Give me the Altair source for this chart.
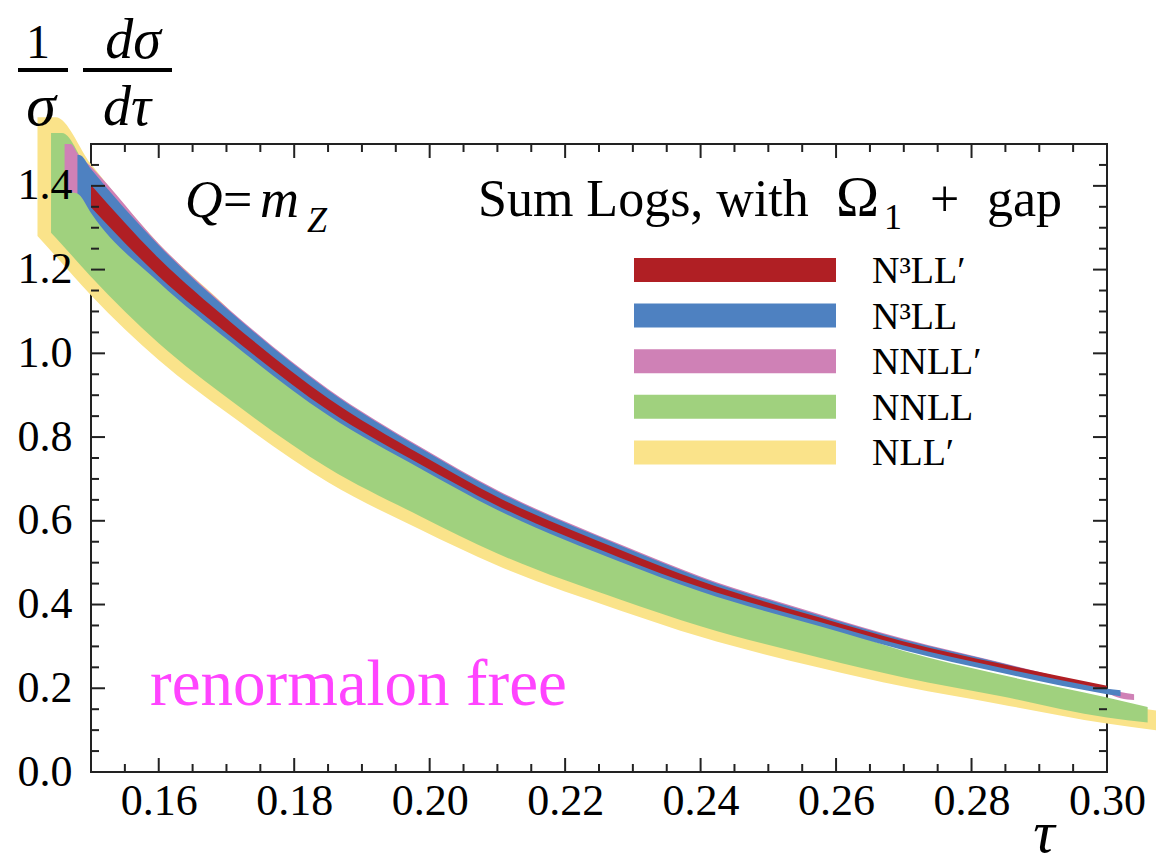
import altair as alt
import pandas as pd

# ---- band data: thrust distribution 1/sigma dsigma/dtau, one band per order ----
orders = ["NLL′", "NNLL", "NNLL′", "N³LL", "N³LL′"]   # drawn bottom to top
colors = ["#FAE38A", "#A0D17E", "#CF81B6", "#4E81C1", "#B01F24"]

tau_nllp = [0.1421, 0.1448, 0.15, 0.16, 0.1706, 0.185, 0.1986, 0.21, 0.2281, 0.24, 0.2576, 0.27, 0.2842, 0.30, 0.308]
hi_nllp = [1.564, 1.564, 1.452, 1.262, 1.101, 0.850, 0.720, 0.620, 0.500, 0.430, 0.345, 0.285, 0.220, 0.165, 0.145]
lo_nllp = [1.280, 1.232, 1.139, 0.984, 0.852, 0.692, 0.579, 0.493, 0.386, 0.323, 0.249, 0.204, 0.1618, 0.1156, 0.098]

tau_nnll = [0.1441, 0.1457, 0.15, 0.16, 0.1706, 0.185, 0.1986, 0.21, 0.2281, 0.24, 0.2576, 0.27, 0.2842, 0.30, 0.306]
hi_nnll = [1.526, 1.526, 1.420, 1.180, 1.037, 0.862, 0.735, 0.636, 0.512, 0.441, 0.355, 0.289, 0.2327, 0.178, 0.155]
lo_nnll = [1.288, 1.260, 1.183, 1.024, 0.888, 0.726, 0.611, 0.522, 0.412, 0.348, 0.273, 0.226, 0.1816, 0.130, 0.118]

tau_nnllp = [0.1461, 0.147, 0.148, 0.15, 0.16, 0.1706, 0.185, 0.1986, 0.21, 0.2281, 0.24, 0.2576, 0.27, 0.2842, 0.30, 0.302, 0.304]
hi_nnllp = [1.500, 1.500, 1.478, 1.446, 1.262, 1.102, 0.915, 0.777, 0.673, 0.544, 0.467, 0.377, 0.318, 0.262, 0.199, 0.191, 0.186]
lo_nnllp = [1.386, 1.385, 1.382, 1.339, 1.174, 1.031, 0.856, 0.729, 0.630, 0.506, 0.435, 0.352, 0.294, 0.240, 0.188, 0.176, 0.172]

tau_n3ll = [0.148, 0.1483, 0.15, 0.16, 0.1706, 0.185, 0.1986, 0.21, 0.2281, 0.24, 0.2576, 0.27, 0.2842, 0.30, 0.302]
hi_n3ll = [1.474, 1.474, 1.440, 1.258, 1.099, 0.912, 0.774, 0.670, 0.541, 0.464, 0.374, 0.316, 0.261, 0.199, 0.195]
lo_n3ll = [1.382, 1.378, 1.335, 1.170, 1.027, 0.852, 0.725, 0.626, 0.502, 0.431, 0.348, 0.291, 0.2375, 0.186, 0.181]

tau_n3llp = [0.15, 0.16, 0.1706, 0.185, 0.1986, 0.21, 0.2281, 0.24, 0.2576, 0.27, 0.2842, 0.30]
hi_n3llp = [1.402, 1.227, 1.075, 0.893, 0.759, 0.657, 0.531, 0.456, 0.369, 0.312, 0.259, 0.206]
lo_n3llp = [1.349, 1.184, 1.041, 0.864, 0.735, 0.636, 0.512, 0.441, 0.358, 0.302, 0.2495, 0.1976]

x_labels = [0.16, 0.18, 0.20, 0.22, 0.24, 0.26, 0.28, 0.30]
y_labels = [0.0, 0.2, 0.4, 0.6, 0.8, 1.0, 1.2, 1.4]

# ---- layout ----
W, H = 1016, 628
FONT = "Liberation Serif"
INK = "#222222"

xscale = alt.Scale(domain=[0.15, 0.30], nice=False, zero=False)
yscale = alt.Scale(domain=[0.0, 1.5], nice=False, zero=False)
xaxis = alt.Axis(values=x_labels, format=".2f", title=None, ticks=False, tickSize=0,
                 domain=False, grid=False, labelFont=FONT, labelFontSize=44,
                 labelColor="black", labelPadding=7, labelBaseline="top",
                 labelFlush=False, labelOverlap=False, zindex=1)
yaxis = alt.Axis(values=y_labels, format=".1f", title=None, ticks=False, tickSize=0,
                 domain=False, grid=False, labelFont=FONT, labelFontSize=44,
                 labelColor="black", labelPadding=19, labelFlush=False,
                 labelOverlap=False, zindex=1)


def X(field):
    return alt.X(f"{field}:Q", scale=xscale, axis=xaxis)


def Y(field):
    return alt.Y(f"{field}:Q", scale=yscale, axis=yaxis)


bands = [
    (tau_nllp, lo_nllp, hi_nllp),
    (tau_nnll, lo_nnll, hi_nnll),
    (tau_nnllp, lo_nnllp, hi_nnllp),
    (tau_n3ll, lo_n3ll, hi_n3ll),
    (tau_n3llp, lo_n3llp, hi_n3llp),
]

layers = []
for (t, lo, hi), col in zip(bands, colors):
    df = pd.DataFrame({"tau": t, "lo": lo, "hi": hi})
    layers.append(
        alt.Chart(df).mark_area(color=col, interpolate="monotone", opacity=1)
        .encode(x=X("tau"), y=Y("lo"), y2="hi")
    )

# ---- inward ticks on all four sides ----
x_major = [round(0.16 + 0.02 * i, 3) for i in range(8)]
x_minor = [round(0.15 + 0.005 * i, 3) for i in range(31)]
x_minor = [v for v in x_minor if v not in x_major]
y_major = [round(0.2 * i, 2) for i in range(8)]
y_minor = [round(0.05 * i, 2) for i in range(31)]
y_minor = [v for v in y_minor if v not in y_major]

for vals, ln in [(x_major, 14), (x_minor, 8)]:
    d = pd.DataFrame({"tau": vals})
    layers.append(alt.Chart(d).mark_rule(color=INK, strokeWidth=2)
                  .encode(x=X("tau"), y=alt.value(H), y2=alt.value(H - ln)))
    layers.append(alt.Chart(d).mark_rule(color=INK, strokeWidth=2)
                  .encode(x=X("tau"), y=alt.value(0), y2=alt.value(ln)))
for vals, ln in [(y_major, 14), (y_minor, 8)]:
    d = pd.DataFrame({"v": vals})
    layers.append(alt.Chart(d).mark_rule(color=INK, strokeWidth=2)
                  .encode(y=Y("v"), x=alt.value(0), x2=alt.value(ln)))
    layers.append(alt.Chart(d).mark_rule(color=INK, strokeWidth=2)
                  .encode(y=Y("v"), x=alt.value(W), x2=alt.value(W - ln)))

one = pd.DataFrame({"k": [0]})


def label(txt, x, y, size, italic=False, color="black", align="left"):
    return alt.Chart(one).mark_text(
        text=txt, font=FONT, fontSize=size, fontStyle="italic" if italic else "normal",
        color=color, align=align, baseline="alphabetic"
    ).encode(x=alt.value(x), y=alt.value(y))


def bar(x0, x1, y0, y1, color, width):
    return alt.Chart(one).mark_rule(color=color, strokeWidth=width).encode(
        x=alt.value(x0), x2=alt.value(x1), y=alt.value(y0), y2=alt.value(y1))


# ---- y-axis title as a stacked fraction: (1/sigma) (dsigma/dtau) ----
layers += [
    label("1", -53, -86, 48, align="center"),
    bar(-73, -23, -74, -74, "black", 4),
    label("σ", -50, -19, 60, italic=True, align="center"),
    label("dσ", 42, -86, 56, italic=True, align="center"),
    bar(-8, 81, -74, -74, "black", 4),
    label("dτ", 36, -19, 56, italic=True, align="center"),
]

# ---- x-axis title ----
layers.append(label("τ", 953, 708, 60, italic=True, align="center"))

# ---- annotations ----
layers += [
    label("Q", 94, 73, 52, italic=True),
    label("=", 132, 73, 52),
    label("m", 169, 73, 54, italic=True),
    label("Z", 216, 88, 36, italic=True),
    label("Sum Logs, with", 387, 72, 52),
    label("Ω", 745, 72, 58),
    label("1", 793, 85, 36),
    label("+", 839, 72, 52),
    label("gap", 971, 72, 52, align="right"),
    label("renormalon free", 59, 561, 65, color="#FF44FF"),
]

# ---- legend ----
row0, step = 126, 45.6
for i, (name, col) in enumerate(zip(orders[::-1], colors[::-1])):
    yc = row0 + i * step
    layers.append(bar(543, 745, yc, yc, col, 24))
    layers.append(label(name, 781, yc + 13, 38))

chart = alt.layer(*layers).properties(
    width=W, height=H,
    autosize=alt.AutoSizeParams(type="none"),
    padding={"left": 91, "top": 144, "right": 49, "bottom": 94},
    background="white",
).configure_view(stroke=INK, strokeWidth=2)

chart.save("out.html", embed_options={"renderer": "svg", "actions": False})
